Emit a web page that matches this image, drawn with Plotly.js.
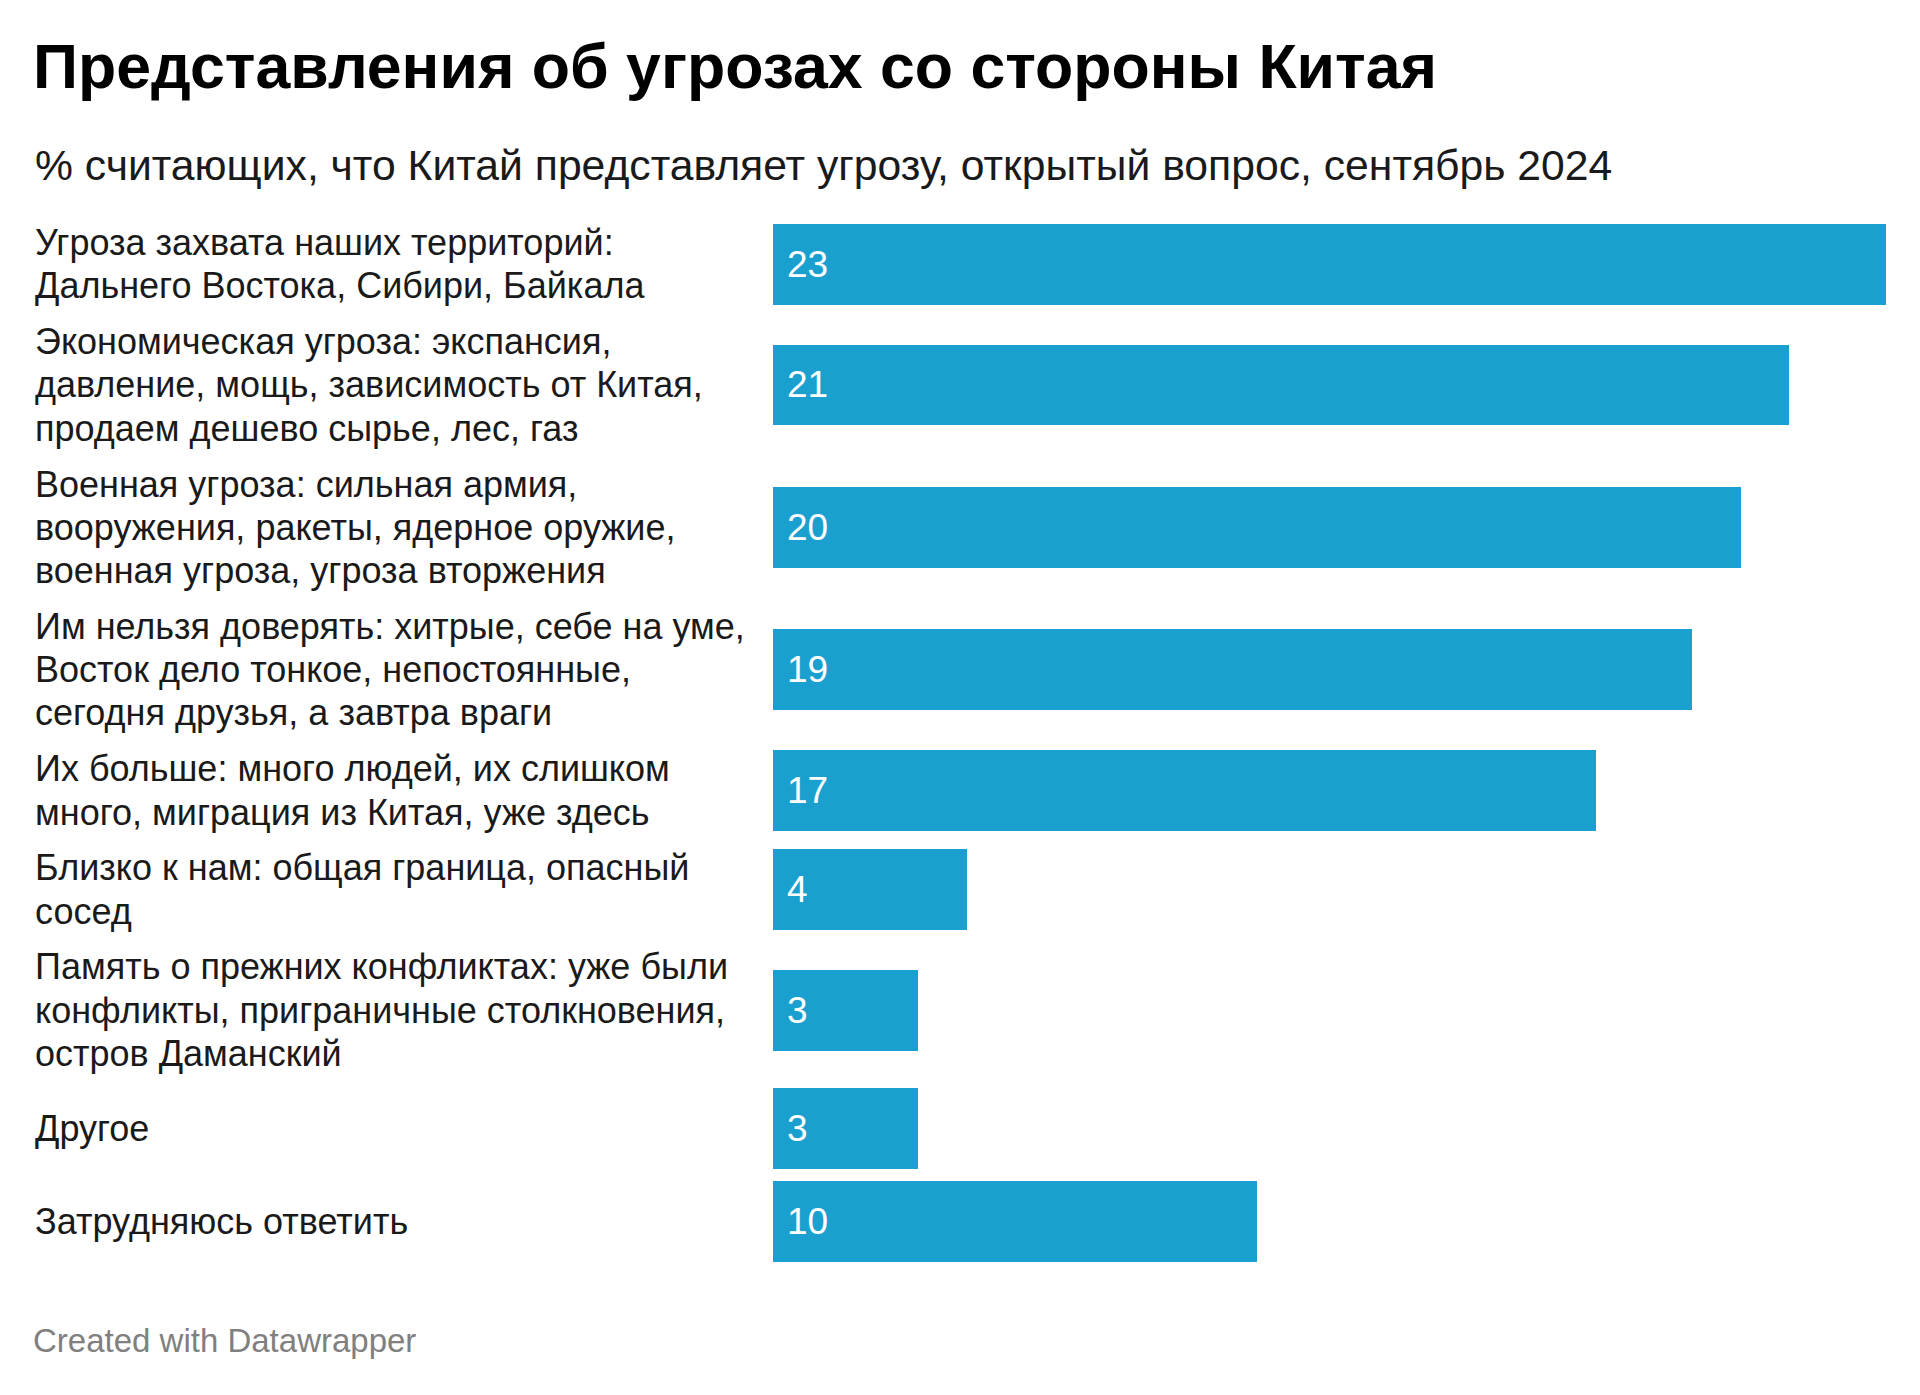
<!DOCTYPE html>
<html>
<head>
<meta charset="utf-8">
<script src="https://cdn.plot.ly/plotly-3.0.1.min.js"></script>
<style>html,body{margin:0;padding:0;background:#fff;}#chart{width:1920px;height:1395px;}</style>
</head>
<body>
<div id="chart"></div>
<script>
const titleText = "Представления об угрозах со стороны Китая";
const subtitleText = "% считающих, что Китай представляет угрозу, открытый вопрос, сентябрь 2024";
const footerText = "Created with Datawrapper";

const categories = [
  "Угроза захвата наших территорий:<br>Дальнего Востока, Сибири, Байкала",
  "Экономическая угроза: экспансия,<br>давление, мощь, зависимость от Китая,<br>продаем дешево сырье, лес, газ",
  "Военная угроза: сильная армия,<br>вооружения, ракеты, ядерное оружие,<br>военная угроза, угроза вторжения",
  "Им нельзя доверять: хитрые, себе на уме,<br>Восток дело тонкое, непостоянные,<br>сегодня друзья, а завтра враги",
  "Их больше: много людей, их слишком<br>много, миграция из Китая, уже здесь",
  "Близко к нам: общая граница, опасный<br>сосед",
  "Память о прежних конфликтах: уже были<br>конфликты, приграничные столкновения,<br>остров Даманский",
  "Другое",
  "Затрудняюсь ответить"
];
const values = [23, 21, 20, 19, 17, 4, 3, 3, 10];

// layout constants (pixels)
const W = 1920, H = 1395;
const LINE_H = 43.3, BAR_H = 81, GAP = 12.5;
const BAR_LEFT = 773, BAR_RIGHT_MAX = 1886;
const FIRST_CENTER_PX = 264;
const FONT = "'Liberation Sans', Arial, Helvetica, sans-serif";
const BAR_COLOR = "#1aa0cf";

// row geometry derived from label line counts (Datawrapper-like stacking)
const lines = categories.map(c => c.split("<br>"));
const rowH = lines.map(l => Math.max(BAR_H, l.length * LINE_H));
const centers = [];
let acc = 0;
rowH.forEach((h, i) => { centers.push(acc + h / 2); acc += h + (i < rowH.length - 1 ? GAP : 0); });
const total = acc;
const marginT = FIRST_CENTER_PX - centers[0];
const marginB = H - marginT - total;
const pyFromPx = px => (H - marginB - px) / total;

const annotations = [];
lines.forEach((ls, i) => {
  ls.forEach((txt, j) => {
    annotations.push({
      text: txt, xref: "paper", yref: "y", x: 33 / W,
      y: centers[i] + (j - (ls.length - 1) / 2) * LINE_H,
      xanchor: "left", yanchor: "middle", showarrow: false,
      font: {family: FONT, size: 36, color: "#1a1a1a"}
    });
  });
  annotations.push({
    text: String(values[i]), xref: "x", yref: "y", x: 0, y: centers[i],
    xanchor: "left", yanchor: "middle", xshift: 12, showarrow: false,
    font: {family: FONT, size: 37, color: "#ffffff"}
  });
});
annotations.push({
  text: subtitleText, xref: "paper", yref: "paper", x: 33 / W, y: pyFromPx(165),
  xanchor: "left", yanchor: "middle", showarrow: false,
  font: {family: FONT, size: 42.7, color: "#1a1a1a"}
});
annotations.push({
  text: footerText, xref: "paper", yref: "paper", x: 31 / W, y: pyFromPx(1341),
  xanchor: "left", yanchor: "middle", showarrow: false,
  font: {family: FONT, size: 33, color: "#808080"}
});

const trace = {
  type: "bar", orientation: "h",
  x: values, y: centers, width: BAR_H,
  marker: {color: BAR_COLOR, line: {width: 0}},
  hoverinfo: "skip"
};

const layout = {
  width: W, height: H,
  paper_bgcolor: "#ffffff", plot_bgcolor: "#ffffff",
  margin: {l: 0, r: 0, t: marginT, b: marginB, pad: 0},
  showlegend: false,
  title: {
    text: titleText, xref: "container", yref: "container",
    x: 33 / W, xanchor: "left", y: 1 - 66 / H, yanchor: "middle",
    font: {family: FONT, size: 62.6, weight: 700, color: "#000000"}
  },
  xaxis: {
    domain: [BAR_LEFT / W, BAR_RIGHT_MAX / W],
    range: [0, Math.max(...values)],
    visible: false, fixedrange: true
  },
  yaxis: {
    range: [total, 0], visible: false, fixedrange: true
  },
  bargap: 0,
  annotations: annotations
};

Plotly.newPlot("chart", [trace], layout, {displayModeBar: false, staticPlot: true});
</script>
</body>
</html>
